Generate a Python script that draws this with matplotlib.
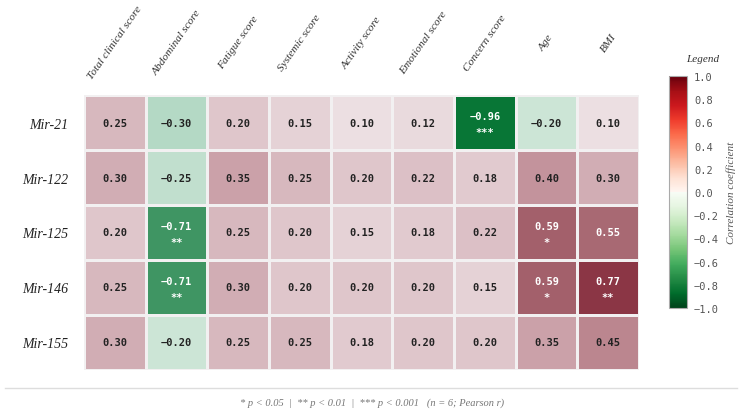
import numpy as np
import matplotlib
matplotlib.use('Agg')
import matplotlib.pyplot as plt
from matplotlib.colors import LinearSegmentedColormap, Normalize
from matplotlib import cm

# data
mirnas = ['Mir-21', 'Mir-122', 'Mir-125', 'Mir-146', 'Mir-155']
variables = ['Total clinical score', 'Abdominal score', 'Fatigue score', 'Systemic score',
             'Activity score', 'Emotional score', 'Concern score', 'Age', 'BMI']
r_mir21 = [0.25, -0.30, 0.20, 0.15, 0.10, 0.12, -0.96, -0.20, 0.10]
r_mir122 = [0.30, -0.25, 0.35, 0.25, 0.20, 0.22, 0.18, 0.40, 0.30]
r_mir125 = [0.20, -0.71, 0.25, 0.20, 0.15, 0.18, 0.22, 0.59, 0.55]
r_mir146 = [0.25, -0.71, 0.30, 0.20, 0.20, 0.20, 0.15, 0.59, 0.77]
r_mir155 = [0.30, -0.20, 0.25, 0.25, 0.18, 0.20, 0.20, 0.35, 0.45]
stars_mir21 = ['', '', '', '', '', '', '***', '', '']
stars_mir125 = ['', '**', '', '', '', '', '', '*', '']
stars_mir146 = ['', '**', '', '', '', '', '', '*', '**']
stars_empty = [''] * 9

corr = np.array([r_mir21, r_mir122, r_mir125, r_mir146, r_mir155])
stars = [stars_mir21, stars_empty, stars_mir125, stars_mir146, stars_empty]

# muted colours for the cells, brighter map for the colour bar
cell_cmap = LinearSegmentedColormap.from_list('cells', [
    (0.00, '#005f2b'), (0.02, '#087636'), (0.145, '#3f9563'), (0.35, '#b5d9c5'),
    (0.40, '#cce5d6'), (0.50, '#f4eef0'), (0.55, '#ecdfe2'), (0.70, '#c4949d'),
    (0.7725, '#a96b75'), (0.885, '#8b3645'), (1.00, '#6e1a2c')])
greens = plt.get_cmap('Greens_r')(np.linspace(0, 1, 128))
reds = plt.get_cmap('Reds')(np.linspace(0, 1, 128))
bar_cmap = LinearSegmentedColormap.from_list('bar', np.vstack([greens, reds]))
norm = Normalize(-1, 1)

fig = plt.figure(figsize=(7.44, 4.14), dpi=100)
ax = fig.add_axes([0.1129, 0.1039, 0.746, 0.6642])

ax.pcolormesh(corr, cmap=cell_cmap, norm=norm, edgecolor='#f2f0f1', linewidth=0.9)
ax.set_xlim(0, len(variables))
ax.set_ylim(len(mirnas), 0)
for s in ax.spines.values():
    s.set_visible(False)
ax.set_xticks([])
ax.set_yticks(np.arange(len(mirnas)) + 0.5)
ax.set_yticklabels(mirnas, fontfamily='Liberation Serif', fontstyle='italic',
                   fontsize=10, color='#222222')
ax.tick_params(axis='y', length=0, pad=11)

for j, name in enumerate(variables):
    ax.text(j + 0.5, -0.96, name, rotation=55, ha='center', va='center',
            fontfamily='Liberation Serif', fontstyle='italic', fontsize=8.2,
            color='#333333')

for i in range(len(mirnas)):
    for j in range(len(variables)):
        v = corr[i, j]
        col = 'white' if abs(v) > 0.5 else '#222222'
        txt = f'{v:.2f}'.replace('-', '\u2212')
        if stars[i][j]:
            ax.text(j + 0.5, i + 0.38, txt, ha='center', va='center', fontsize=7.5,
                    fontfamily='DejaVu Sans Mono', fontweight='bold', color=col)
            ax.text(j + 0.5, i + 0.68, stars[i][j], ha='center', va='center', fontsize=7.5,
                    fontfamily='DejaVu Sans Mono', fontweight='bold', color=col)
        else:
            ax.text(j + 0.5, i + 0.5, txt, ha='center', va='center', fontsize=7.5,
                    fontfamily='DejaVu Sans Mono', fontweight='bold', color=col)

# colour bar
cax = fig.add_axes([0.8992, 0.2536, 0.0242, 0.5604])
cb = fig.colorbar(cm.ScalarMappable(norm=norm, cmap=bar_cmap), cax=cax,
                  ticks=np.linspace(-1, 1, 11))
cb.outline.set_edgecolor('#aaaaaa')
cb.outline.set_linewidth(0.8)
cax.tick_params(length=0, pad=5, labelsize=7.5, labelcolor='#555555')
cax.set_yticklabels([f'{t:.1f}'.replace('-', '\u2212') for t in np.linspace(-1, 1, 11)],
                    fontfamily='DejaVu Sans Mono')
fig.text(703 / 744, 1 - 60 / 414, 'Legend', ha='center', va='center',
         fontfamily='Liberation Serif', fontstyle='italic', fontsize=8, color='#333333')
fig.text(731 / 744, 1 - 193 / 414, 'Correlation coefficient', rotation=90,
         ha='center', va='center', fontfamily='Liberation Serif', fontstyle='italic',
         fontsize=8, color='#555555')

# footer
fig.add_artist(plt.Line2D([5 / 744, 737 / 744], [1 - 389 / 414] * 2,
                          color='#dddddd', linewidth=1))
fig.text(372 / 744, 1 - 403 / 414,
         '* p < 0.05  |  ** p < 0.01  |  *** p < 0.001   (n = 6; Pearson r)',
         ha='center', va='center', fontfamily='Liberation Serif', fontstyle='italic',
         fontsize=7.5, color='#777777')

fig.savefig('out.png', dpi=100)
